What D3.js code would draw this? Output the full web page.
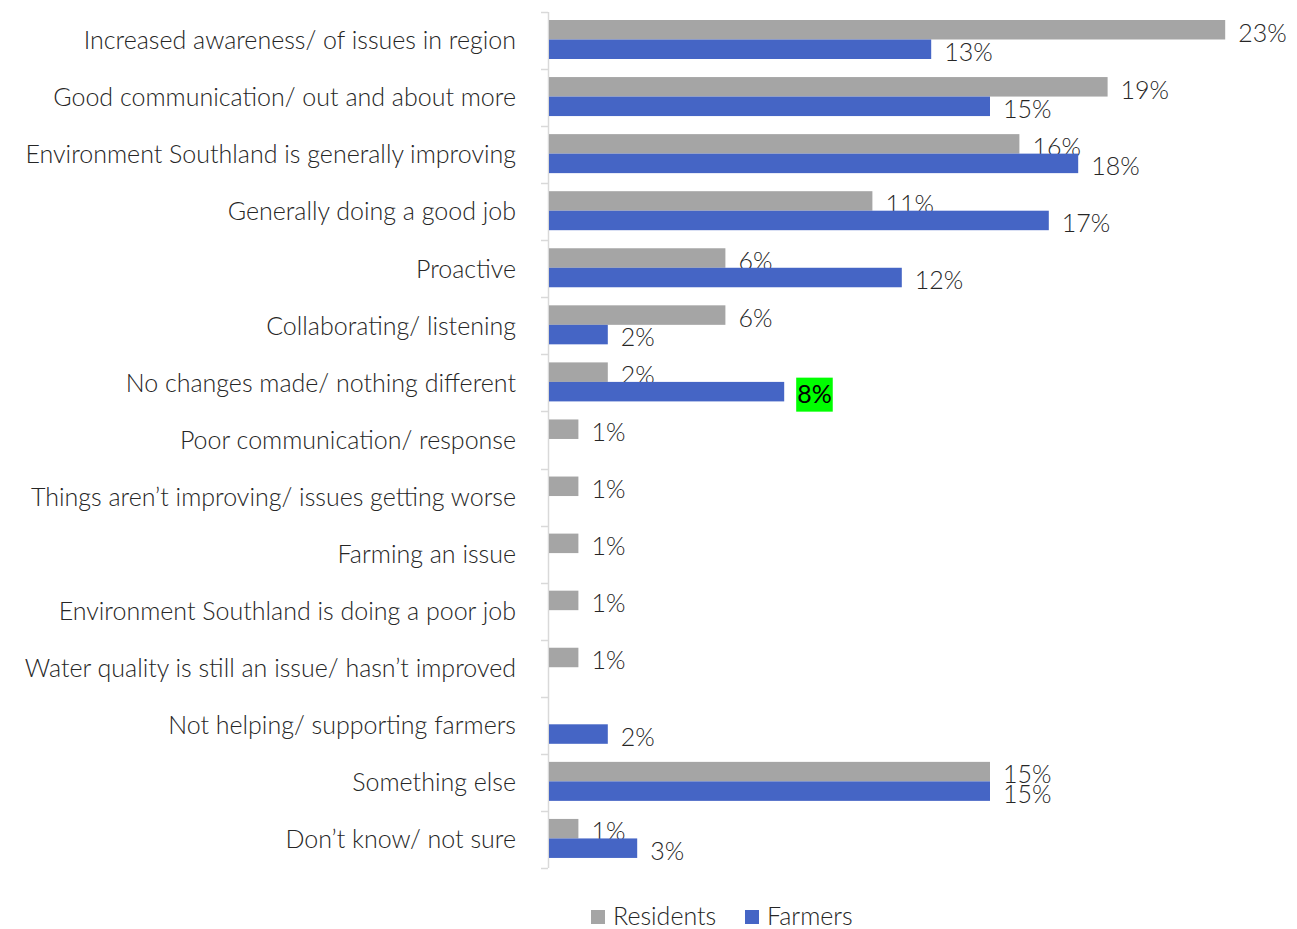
<!DOCTYPE html>
<html>
<head>
<meta charset="utf-8">
<script src="https://cdn.jsdelivr.net/npm/d3@7"></script>
<style>
  html, body { margin: 0; padding: 0; background: #fff; }
  svg text { font-family: Lato, "Noto Sans", sans-serif; font-weight: 300; }
</style>
</head>
<body>
<svg id="chart" width="1297" height="929"></svg>
<script>
// Reasons for changed perception, by respondent group (percent)
const categories = [
  "Increased awareness/ of issues in region",
  "Good communication/ out and about more",
  "Environment Southland is generally improving",
  "Generally doing a good job",
  "Proactive",
  "Collaborating/ listening",
  "No changes made/ nothing different",
  "Poor communication/ response",
  "Things aren\u2019t improving/ issues getting worse",
  "Farming an issue",
  "Environment Southland is doing a poor job",
  "Water quality is still an issue/ hasn\u2019t improved",
  "Not helping/ supporting farmers",
  "Something else",
  "Don\u2019t know/ not sure"
];
const residents = [23, 19, 16, 11, 6, 6, 2, 1, 1, 1, 1, 1, null, 15, 1];
const farmers   = [13, 15, 18, 17, 12, 2, 8, null, null, null, null, null, 2, 15, 3];
const seriesNames = ["Residents", "Farmers"];
const seriesColors = ["#a5a5a5", "#4565c5"];
const highlighted = { series: 1, index: 6 };

const svg = d3.select("#chart");
const margin = { left: 548, top: 12 };
const plotH = 856;
const fontSize = 25;

const y = d3.scaleBand().domain(categories).range([margin.top, margin.top + plotH]).paddingInner(0).paddingOuter(0);
const x = d3.scaleLinear().domain([0, 25]).range([margin.left, margin.left + 735]);

const padTop = 8;
const barH = 19.5;

// category axis with ticks between groups
const axisG = svg.append("g");
axisG.append("line")
  .attr("x1", margin.left + 0.5).attr("x2", margin.left + 0.5)
  .attr("y1", margin.top).attr("y2", margin.top + plotH)
  .attr("stroke", "#d9d9d9").attr("stroke-width", 1.5);
const bounds = categories.map(c => y(c)).concat([margin.top + plotH]);
axisG.selectAll("line.tick").data(bounds).enter().append("line")
  .attr("class", "tick")
  .attr("x1", margin.left - 7).attr("x2", margin.left)
  .attr("y1", d => Math.round(d) + 0.5).attr("y2", d => Math.round(d) + 0.5)
  .attr("stroke", "#d9d9d9").attr("stroke-width", 1.5);

axisG.selectAll("text.cat").data(categories).enter().append("text")
  .attr("class", "cat")
  .attr("x", 516)
  .attr("y", d => y(d) + y.bandwidth() / 2)
  .attr("dy", "0.35em")
  .attr("text-anchor", "end")
  .attr("font-size", fontSize)
  .attr("fill", "#262626")
  .text(d => d);

// bars
const series = [residents, farmers];
series.forEach((vals, si) => {
  const rows = categories.map((c, i) => ({ c, i, v: vals[i] })).filter(d => d.v != null);
  const g = svg.append("g");
  g.selectAll("rect").data(rows).enter().append("rect")
    .attr("x", x(0) + 1)
    .attr("y", d => y(d.c) + padTop + si * barH)
    .attr("width", d => x(d.v) - x(0))
    .attr("height", barH)
    .attr("fill", seriesColors[si]);

  const labels = g.selectAll("g.lbl").data(rows).enter().append("g")
    .attr("class", "lbl")
    .attr("transform", d => `translate(${x(d.v) + 14},${y(d.c) + padTop + si * barH + barH / 2 + 3})`);
  labels.each(function (d) {
    const sel = d3.select(this);
    const isHi = si === highlighted.series && d.i === highlighted.index;
    const t = sel.append("text")
      .attr("dy", "0.35em")
      .attr("font-size", fontSize)
      .attr("fill", isHi ? "#000" : "#262626")
      .style("font-weight", isHi ? 400 : 300)
      .text(d.v + "%");
    if (isHi) {
      const bb = t.node().getBBox();
      sel.insert("rect", "text")
        .attr("x", bb.x - 1).attr("y", -17)
        .attr("width", bb.width + 2).attr("height", 34)
        .attr("fill", "#00ff00");
    }
  });
});

// legend
const legend = svg.append("g").attr("transform", "translate(591,916)");
const items = [{ n: seriesNames[0], c: seriesColors[0], dx: 0 }, { n: seriesNames[1], c: seriesColors[1], dx: 154 }];
items.forEach(it => {
  const g = legend.append("g").attr("transform", `translate(${it.dx},0)`);
  g.append("rect").attr("x", 0).attr("y", -6).attr("width", 14).attr("height", 14).attr("fill", it.c);
  g.append("text").attr("x", 22).attr("y", 0).attr("dy", "0.35em")
    .attr("font-size", fontSize).attr("fill", "#262626").text(it.n);
});
</script>
</body>
</html>
